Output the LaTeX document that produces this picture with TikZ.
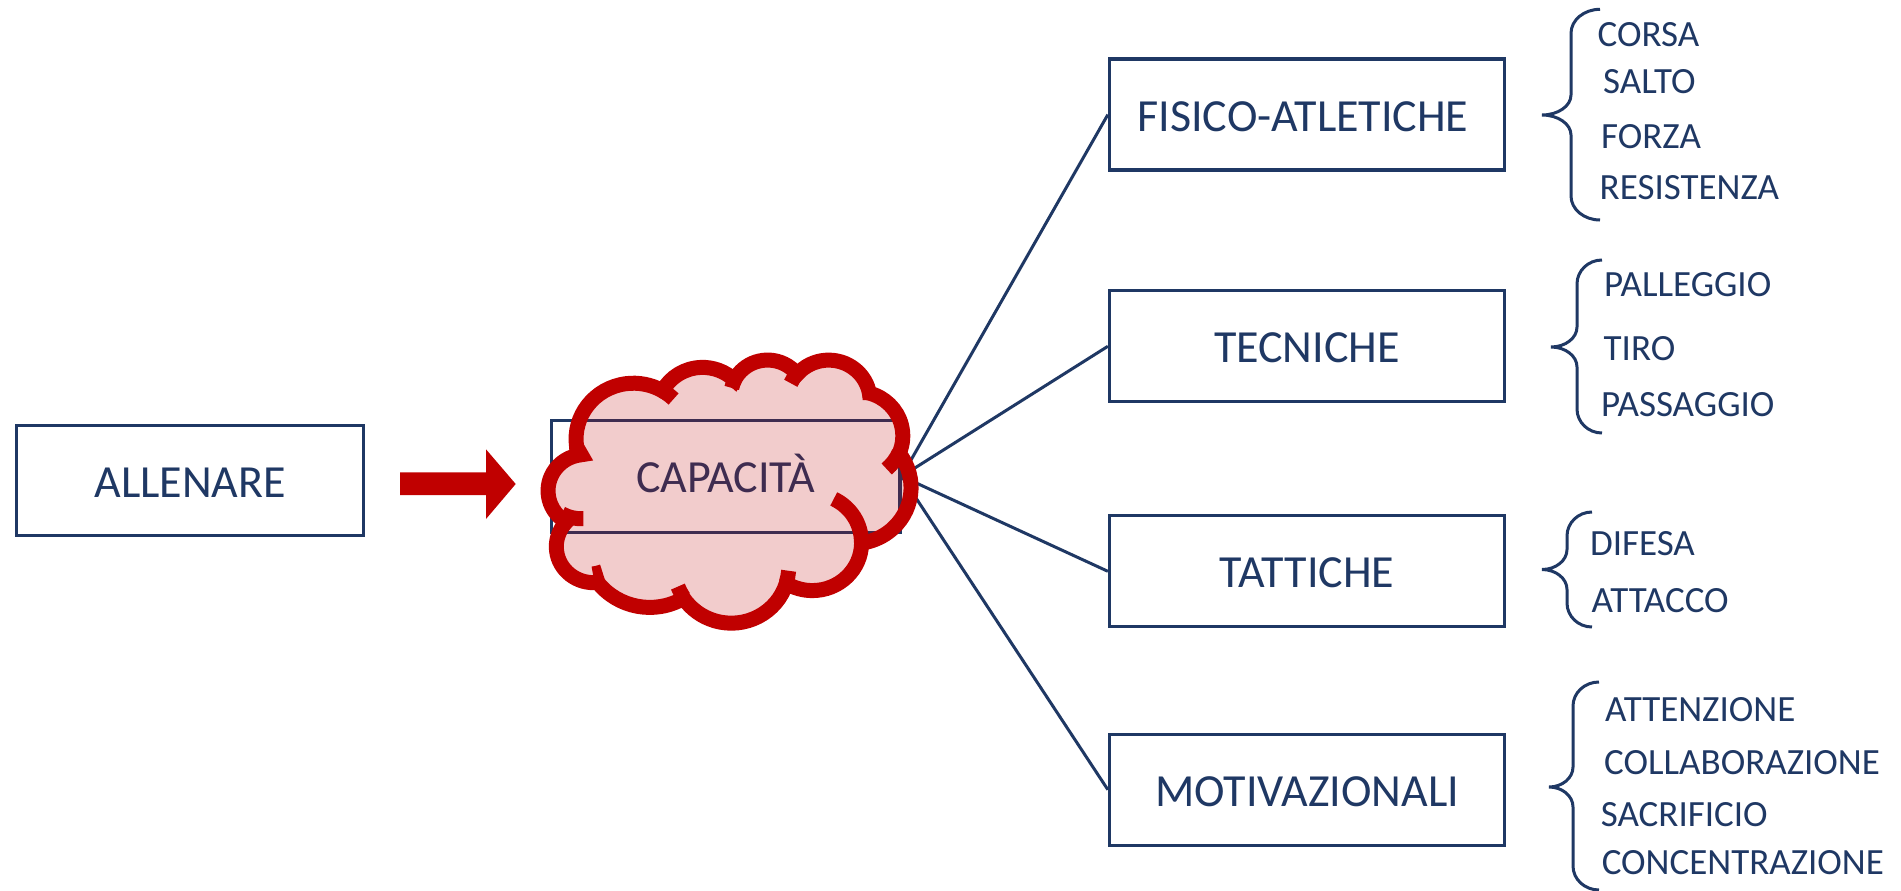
\documentclass[tikz,border=0pt]{standalone}
\usepackage{fontspec}
\setmainfont{Carlito}
\definecolor{navy}{HTML}{1F3864}
\definecolor{cred}{HTML}{C00000}
\newcommand\bigfont{\fontsize{46}{50}\selectfont}
\newcommand\smallfont{\fontsize{37}{40}\selectfont}
\newcommand\mybrace[6]{% tipx tipy vx ex top bot
 \draw[bracel] (#4,#5) .. controls ({#4-0.552*(#4-#3)},#5) and (#3,{#5+24-0.552*24}) .. (#3,{#5+24})
   -- (#3,{#2-20}) .. controls (#3,{#2-20+0.552*20}) and ({#1+0.552*(#3-#1)},#2) .. (#1,#2)
   .. controls ({#1+0.552*(#3-#1)},#2) and (#3,{#2+20-0.552*20}) .. (#3,{#2+20})
   -- (#3,{#6-24}) .. controls (#3,{#6-24+0.552*24}) and ({#4-0.552*(#4-#3)},#6) .. (#4,#6);}
\tikzset{
  bigbox/.style={draw=navy, line width=3.3pt, minimum width=395pt, minimum height=111pt,
    inner sep=0pt, text=navy, font=\bigfont, text height=33pt, text depth=0pt},
  item/.style={inner sep=0pt, text=navy, font=\smallfont, anchor=base west},
  conn/.style={draw=navy, line width=3pt},
  bracel/.style={draw=navy, line width=3pt},
  cloudline/.style={draw=cred, line width=15pt},
  carc/.style n args={4}{insert path={arc[start angle={-pa(#1,#2,#3)}, delta angle={-dp(#1,#2,#3,#4)}, x radius={#1*8.507pt}, y radius={#2*6.088pt}]}}
}
\begin{document}
\begin{tikzpicture}[x=1pt,y=-1pt,
  declare function={pa(\qa,\qb,\qc)=atan2(\qa*sin(\qc),\qb*cos(\qc));
    dp(\qa,\qb,\qc,\qd)=pa(\qa,\qb,\qc+\qd)-pa(\qa,\qb,\qc)+360*round((\qd-pa(\qa,\qb,\qc+\qd)+pa(\qa,\qb,\qc))/360);}]
\useasboundingbox[fill=white] (0,0) rectangle (1901,891);

% left box and arrow
\node[bigbox, minimum width=347pt, minimum height=110pt] (all) at (190.2,480.6) {ALLENARE};
\fill[cred] (400,472.3) -- (486,472.3) -- (486,449.3) -- (515.7,484) -- (486,519) -- (486,495) -- (400,495) -- cycle;

% category boxes
\node[bigbox] (fis) at (1307,114.6) {\hspace*{-8pt}FISICO-ATLETICHE};
\node[bigbox] (tec) at (1307,346.3) {TECNICHE};
\node[bigbox] (tat) at (1307,571.3) {TATTICHE};
\node[bigbox] (mot) at (1307,789.7) {MOTIVAZIONALI};

% central box (behind the cloud)
\node[bigbox, minimum width=348.7pt, minimum height=112pt] (cap) at (725.7,476.3) {CAPACITÀ};

\draw[conn] (cap.east) -- (fis.west);
\draw[conn] (cap.east) -- (tec.west);
\draw[conn] (cap.east) -- (tat.west);
\draw[conn] (cap.east) -- (mot.west);

% cloud
\path[draw=cred, line width=15pt, fill=cred, fill opacity=0.2]
  ({543.4+3.900*8.507},{359.2+14.370*6.088})
  [carc={6.753}{9.190}{-190.48748}{123.78053}]
  [carc={5.333}{7.267}{-144.10238}{89.94523}]
  [carc={4.365}{5.945}{-145.80792}{99.72302}]
  [carc={4.857}{6.595}{-130.98607}{117.24173}]
  [carc={5.333}{7.273}{-78.70888}{109.02692}]
  [carc={6.775}{9.220}{-46.26725}{130.26900}]
  [carc={5.785}{7.867}{0.62502}{114.03333}]
  [carc={6.752}{9.215}{22.45160}{115.17255}]
  [carc={7.720}{10.543}{66.24263}{67.30805}]
  [carc={4.360}{5.918}{-274.94208}{146.73557}]
  [carc={4.345}{5.945}{-246.82850}{152.51885}]
  -- cycle;
\draw[cloudline]
  ({543.4+4.693*8.507},{359.2+26.177*6.088}) [carc={4.345}{5.945}{86.74200}{26.42950}]
  ({543.4+6.928*8.507},{359.2+34.899*6.088}) [carc={4.360}{5.918}{73.61047}{11.44747}]
  ({543.4+16.478*8.507},{359.2+39.090*6.088}) [carc={6.752}{9.215}{137.62415}{14.08110}]
  ({543.4+28.827*8.507},{359.2+34.751*6.088}) [carc={6.752}{9.215}{6.45327}{15.99835}]
  ({543.4+34.129*8.507},{359.2+22.954*6.088}) [carc={5.785}{7.867}{-70.29235}{70.91737}]
  ({543.4+41.798*8.507},{359.2+15.354*6.088}) [carc={5.333}{7.273}{30.31803}{27.75150}]
  ({543.4+38.324*8.507},{359.2+5.426*6.088}) [carc={4.857}{6.595}{-13.74433}{14.85890}]
  ({543.4+29.078*8.507},{359.2+3.952*6.088}) [carc={4.857}{6.595}{-149.18145}{18.19537}]
  ({543.4+22.141*8.507},{359.2+4.720*6.088}) [carc={4.365}{5.945}{-163.49427}{17.68635}]
  ({543.4+14.000*8.507},{359.2+5.192*6.088}) [carc={6.753}{9.190}{-66.70695}{12.31935}]
  ({543.4+4.127*8.507},{359.2+15.789*6.088}) [carc={6.753}{9.190}{157.65435}{11.85817}];

% braces
\mybrace{1542}{115}{1571}{1600}{9.3}{220}
\mybrace{1551}{347}{1577}{1602}{260}{433}
\mybrace{1542}{569.5}{1567}{1592}{512}{627}
\mybrace{1549}{787}{1573}{1599}{682}{890}

% items
\node[item] (i1) at (1597.5,46.8) {CORSA};
\node[item] (i2) at (1603,93.5) {SALTO};
\node[item] (i3) at (1601,148.4) {FORZA};
\node[item] (i4) at (1599.5,199) {RESISTENZA};
\node[item] (i5) at (1604,296.5) {PALLEGGIO};
\node[item] (i6) at (1603.5,360.7) {TIRO};
\node[item] (i7) at (1601,416.2) {PASSAGGIO};
\node[item] (i8) at (1589.8,555.9) {DIFESA};
\node[item] (i9) at (1591.5,612) {ATTACCO};
\node[item] (i10) at (1605,721.7) {ATTENZIONE};
\node[item] (i11) at (1604,774.5) {COLLABORAZIONE};
\node[item] (i12) at (1600.6,826.5) {SACRIFICIO};
\node[item] (i13) at (1601.6,874.5) {CONCENTRAZIONE};
\end{tikzpicture}
\end{document}
